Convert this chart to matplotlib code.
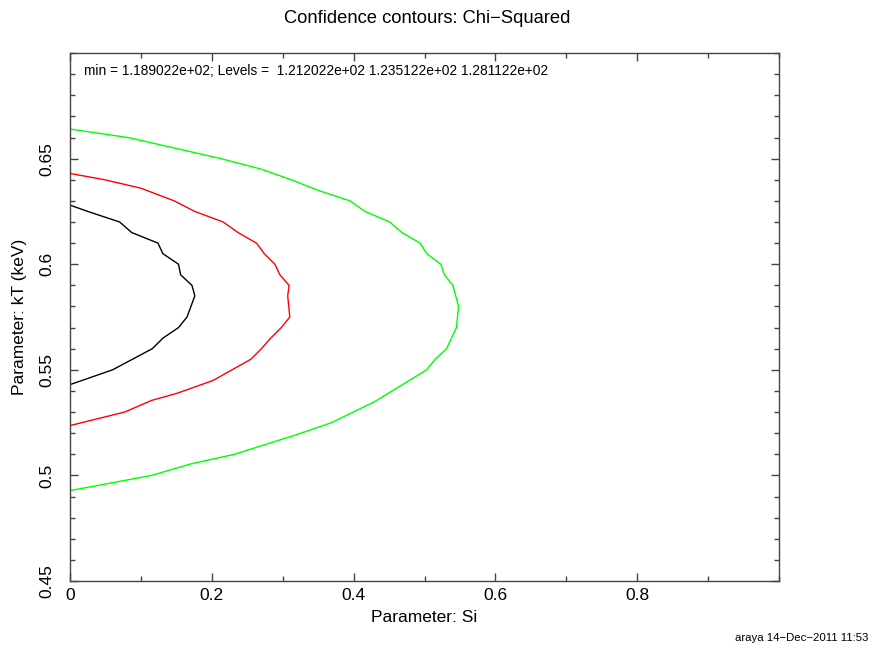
import matplotlib
matplotlib.use('Agg')
import matplotlib.pyplot as plt
from matplotlib.ticker import MultipleLocator

plt.rcParams['font.family'] = ['Liberation Sans', 'DejaVu Sans']

# contour levels (Si, kT)
inner_si = [0.0, 0.025, 0.070, 0.087, 0.124, 0.131, 0.153, 0.156, 0.172, 0.176,
            0.165, 0.153, 0.131, 0.116, 0.060, 0.0]
inner_kt = [0.628, 0.625, 0.620, 0.615, 0.610, 0.605, 0.600, 0.595, 0.590, 0.585,
            0.575, 0.570, 0.565, 0.560, 0.550, 0.543]

mid_si = [0.0, 0.049, 0.100, 0.147, 0.176, 0.216, 0.237, 0.263, 0.274, 0.289,
          0.296, 0.309, 0.307, 0.310, 0.298, 0.283, 0.270, 0.255, 0.202, 0.152,
          0.115, 0.077, 0.0]
mid_kt = [0.643, 0.640, 0.636, 0.630, 0.625, 0.620, 0.615, 0.610, 0.605, 0.600,
          0.595, 0.590, 0.585, 0.575, 0.570, 0.565, 0.560, 0.555, 0.545, 0.539,
          0.5355, 0.530, 0.5236]

outer_si = [0.0, 0.082, 0.213, 0.270, 0.312, 0.350, 0.395, 0.416, 0.451, 0.468,
            0.494, 0.503, 0.523, 0.528, 0.540, 0.548, 0.545, 0.531, 0.515, 0.503,
            0.430, 0.369, 0.317, 0.279, 0.232, 0.171, 0.115, 0.0]
outer_kt = [0.664, 0.660, 0.650, 0.645, 0.640, 0.635, 0.630, 0.625, 0.620, 0.615,
            0.610, 0.605, 0.600, 0.595, 0.590, 0.580, 0.570, 0.560, 0.555, 0.550,
            0.535, 0.525, 0.519, 0.515, 0.510, 0.5055, 0.500, 0.4928]

title = 'Confidence contours: Chi\u2212Squared'
levels_text = 'min = 1.189022e+02; Levels =  1.212022e+02 1.235122e+02 1.281122e+02'
stamp = 'araya 14\u2212Dec\u22122011 11:53'

fig = plt.figure(figsize=(8.71, 6.47), dpi=100)
ax = fig.add_axes([0.0804, 0.102, 0.814, 0.816])

ax.plot(outer_si, outer_kt, color='#00ff00', linewidth=1)
ax.plot(mid_si, mid_kt, color='#ff0000', linewidth=1)
ax.plot(inner_si, inner_kt, color='black', linewidth=1)

ax.set_xlim(0, 1.0)
ax.set_ylim(0.45, 0.70)

ax.xaxis.set_minor_locator(MultipleLocator(0.1))
ax.yaxis.set_minor_locator(MultipleLocator(0.01))
ax.set_xticks([0, 0.2, 0.4, 0.6, 0.8])
ax.set_xticklabels(['0', '0.2', '0.4', '0.6', '0.8'])
ax.set_yticks([0.45, 0.5, 0.55, 0.6, 0.65])
ax.set_yticklabels(['0.45', '0.5', '0.55', '0.6', '0.65'], rotation=90, va='center')

ax.tick_params(which='both', direction='in', top=True, right=True, labelsize=12.5,
               color='#444444', width=1)
ax.tick_params(which='major', length=6)
ax.tick_params(which='minor', length=3.5)
ax.tick_params(axis='x', pad=5)
ax.tick_params(axis='y', pad=11)
for s in ax.spines.values():
    s.set_color('#444444')
    s.set_linewidth(1)

ax.set_xlabel('Parameter: Si', fontsize=12.5, labelpad=5)
ax.set_ylabel('Parameter: kT (keV)', fontsize=12.5, labelpad=9)

fig.text(0.49, 0.972, title, ha='center', va='center', fontsize=13.2)
ax.text(0.02, 0.966, levels_text, transform=ax.transAxes, ha='left', va='center',
        fontsize=9.9)
fig.text(0.997, 0.014, stamp, ha='right', va='center', fontsize=8.2)

fig.savefig('out.png', dpi=100)
